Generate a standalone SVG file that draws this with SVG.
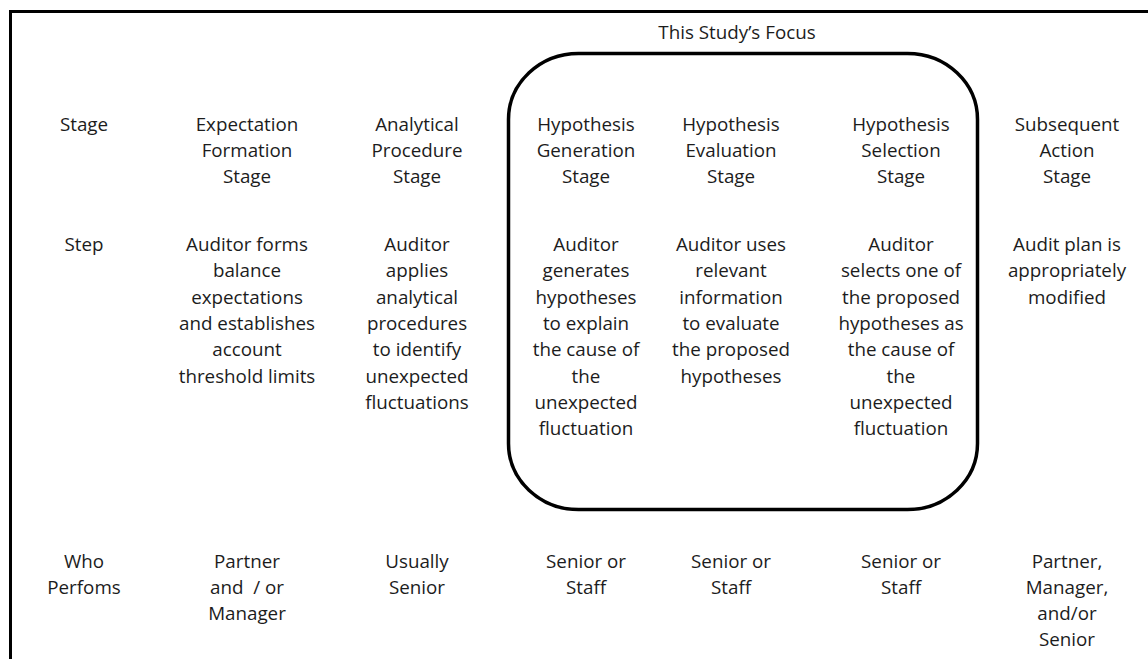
<svg xmlns="http://www.w3.org/2000/svg" width="1148" height="659" viewBox="0 0 1148 659">
  <style>
    .t { font-family: "Open Sans", "Liberation Sans", sans-serif; font-size: 18.8px; fill: #1c1c1c; text-anchor: middle; }
    .frame { fill: none; stroke: #000; stroke-width: 3; }
    .focus { fill: none; stroke: #000; stroke-width: 3.5; }
  </style>
  <rect width="1148" height="659" fill="#fff"/>

  <!-- outer frame: top and left edges only -->
  <path class="frame" d="M10.5 659 V11.5 H1148"/>

  <!-- highlighted block around the three hypothesis stages -->
  <g id="focus">
    <rect class="focus" x="508.5" y="53.5" width="469" height="456" rx="70" ry="66"/>
    <text class="t" x="737" y="39">This Study’s Focus</text>
  </g>

  <!-- row headings -->
  <g id="row-labels">
    <text class="t" x="84" y="131">Stage</text>
    <text class="t" x="84" y="251">Step</text>
    <text class="t" x="84"><tspan x="84" y="568">Who</tspan><tspan x="84" y="594">Perfoms</tspan></text>
  </g>

  <g id="expectation-formation">
    <text class="t"><tspan x="247" y="131">Expectation</tspan><tspan x="247" y="157">Formation</tspan><tspan x="247" y="183">Stage</tspan></text>
    <text class="t"><tspan x="247" y="251">Auditor forms</tspan><tspan x="247" y="277.3">balance</tspan><tspan x="247" y="303.6">expectations</tspan><tspan x="247" y="329.9">and establishes</tspan><tspan x="247" y="356.2">account</tspan><tspan x="247" y="382.5">threshold limits</tspan></text>
    <text class="t"><tspan x="247" y="568">Partner</tspan><tspan x="247" y="594">and&#160; / or</tspan><tspan x="247" y="620">Manager</tspan></text>
  </g>

  <g id="analytical-procedure">
    <text class="t"><tspan x="417" y="131">Analytical</tspan><tspan x="417" y="157">Procedure</tspan><tspan x="417" y="183">Stage</tspan></text>
    <text class="t"><tspan x="417" y="251">Auditor</tspan><tspan x="417" y="277.3">applies</tspan><tspan x="417" y="303.6">analytical</tspan><tspan x="417" y="329.9">procedures</tspan><tspan x="417" y="356.2">to identify</tspan><tspan x="417" y="382.5">unexpected</tspan><tspan x="417" y="408.8">fluctuations</tspan></text>
    <text class="t"><tspan x="417" y="568">Usually</tspan><tspan x="417" y="594">Senior</tspan></text>
  </g>

  <g id="hypothesis-generation">
    <text class="t"><tspan x="586" y="131">Hypothesis</tspan><tspan x="586" y="157">Generation</tspan><tspan x="586" y="183">Stage</tspan></text>
    <text class="t"><tspan x="586" y="251">Auditor</tspan><tspan x="586" y="277.3">generates</tspan><tspan x="586" y="303.6">hypotheses</tspan><tspan x="586" y="329.9">to explain</tspan><tspan x="586" y="356.2">the cause of</tspan><tspan x="586" y="382.5">the</tspan><tspan x="586" y="408.8">unexpected</tspan><tspan x="586" y="435.1">fluctuation</tspan></text>
    <text class="t"><tspan x="586" y="568">Senior or</tspan><tspan x="586" y="594">Staff</tspan></text>
  </g>

  <g id="hypothesis-evaluation">
    <text class="t"><tspan x="731" y="131">Hypothesis</tspan><tspan x="731" y="157">Evaluation</tspan><tspan x="731" y="183">Stage</tspan></text>
    <text class="t"><tspan x="731" y="251">Auditor uses</tspan><tspan x="731" y="277.3">relevant</tspan><tspan x="731" y="303.6">information</tspan><tspan x="731" y="329.9">to evaluate</tspan><tspan x="731" y="356.2">the proposed</tspan><tspan x="731" y="382.5">hypotheses</tspan></text>
    <text class="t"><tspan x="731" y="568">Senior or</tspan><tspan x="731" y="594">Staff</tspan></text>
  </g>

  <g id="hypothesis-selection">
    <text class="t"><tspan x="901" y="131">Hypothesis</tspan><tspan x="901" y="157">Selection</tspan><tspan x="901" y="183">Stage</tspan></text>
    <text class="t"><tspan x="901" y="251">Auditor</tspan><tspan x="901" y="277.3">selects one of</tspan><tspan x="901" y="303.6">the proposed</tspan><tspan x="901" y="329.9">hypotheses as</tspan><tspan x="901" y="356.2">the cause of</tspan><tspan x="901" y="382.5">the</tspan><tspan x="901" y="408.8">unexpected</tspan><tspan x="901" y="435.1">fluctuation</tspan></text>
    <text class="t"><tspan x="901" y="568">Senior or</tspan><tspan x="901" y="594">Staff</tspan></text>
  </g>

  <g id="subsequent-action">
    <text class="t"><tspan x="1067" y="131">Subsequent</tspan><tspan x="1067" y="157">Action</tspan><tspan x="1067" y="183">Stage</tspan></text>
    <text class="t"><tspan x="1067" y="251">Audit plan is</tspan><tspan x="1067" y="277.3">appropriately</tspan><tspan x="1067" y="303.6">modified</tspan></text>
    <text class="t"><tspan x="1067" y="568">Partner,</tspan><tspan x="1067" y="594">Manager,</tspan><tspan x="1067" y="620">and/or</tspan><tspan x="1067" y="646">Senior</tspan></text>
  </g>

  <!-- no connectors in this table-style layout -->
  <g id="connectors"/>
</svg>
